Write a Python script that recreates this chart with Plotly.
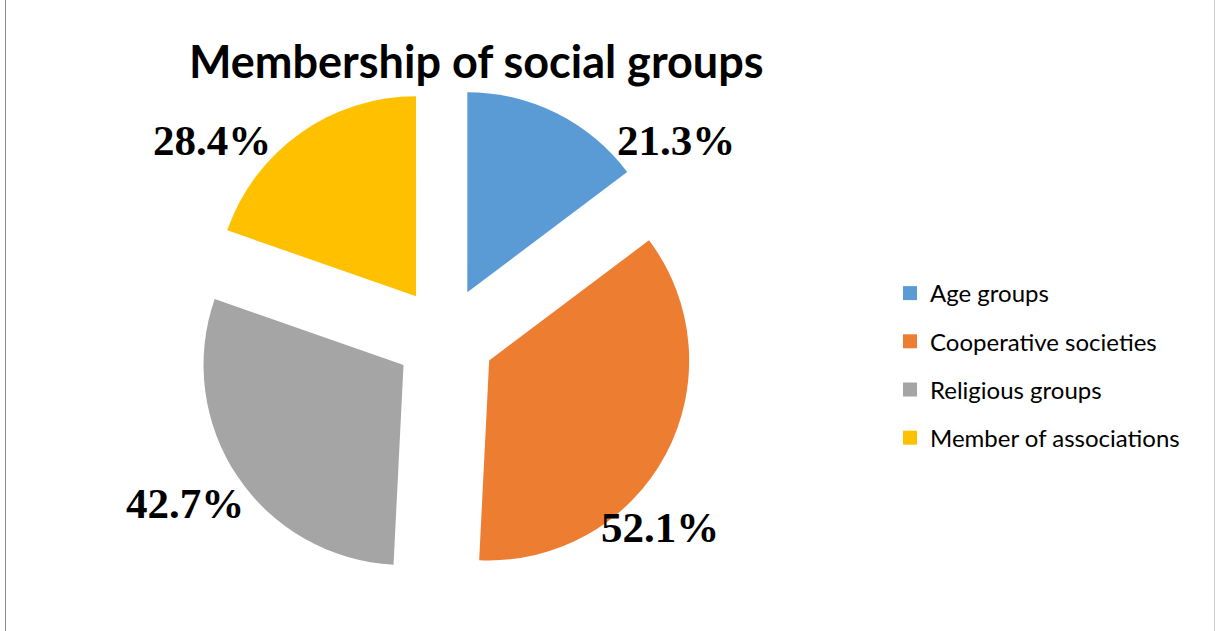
import plotly.graph_objects as go

# Membership of social groups (% of respondents)
groups = ["Age groups", "Cooperative societies", "Religious groups", "Member of associations"]
shares = [21.3, 52.1, 42.7, 28.4]
colors = ["#5B9BD5", "#ED7D31", "#A5A5A5", "#FFC000"]

W, H = 1215, 631

# Where each value label sits (pixel centres, converted to paper fractions below)
label_px = [(676, 141), (660, 527), (185, 504), (212, 140)]

fig = go.Figure()

fig.add_trace(go.Pie(
    labels=groups,
    values=shares,
    sort=False,
    direction="clockwise",
    rotation=0,
    pull=0.25,
    marker=dict(colors=colors, line=dict(width=0)),
    textinfo="none",
    showlegend=False,
    domain=dict(x=[195 / W, 695 / W], y=[1 - 587 / H, 1 - 87 / H]),
))

# Legend entries, one group per category so they can be spaced apart
for i, (name, col) in enumerate(zip(groups, colors)):
    fig.add_trace(go.Scatter(
        x=[None], y=[None], mode="markers", name=name,
        legendgroup=f"g{i}",
        marker=dict(symbol="square", size=14, color=col),
        hoverinfo="skip",
    ))

annotations = [
    dict(text="Membership of social groups", x=476 / W, y=1 - 61 / H,
         xref="paper", yref="paper", xanchor="center", yanchor="middle",
         showarrow=False,
         font=dict(family="Lato", size=45, color="#000000", weight="bold"))
]
for v, (px, py) in zip(shares, label_px):
    annotations.append(dict(
        text=f"{v:.1f}%", x=px / W, y=1 - py / H, xref="paper", yref="paper",
        xanchor="center", yanchor="middle", showarrow=False,
        font=dict(family="Liberation Serif", size=43, color="#000000", weight="bold"),
    ))

fig.update_layout(
    width=W, height=H,
    margin=dict(l=0, r=0, t=0, b=0),
    paper_bgcolor="white", plot_bgcolor="white",
    xaxis=dict(visible=False, range=[0, 1]),
    yaxis=dict(visible=False, range=[0, 1]),
    annotations=annotations,
    legend=dict(
        x=890 / W, y=1 - 271 / H, xanchor="left", yanchor="top",
        font=dict(family="Lato", size=24, color="#000000"),
        tracegroupgap=14, itemclick=False, bgcolor="rgba(0,0,0,0)",
    ),
    shapes=[
        dict(type="line", xref="paper", yref="paper", x0=5.5 / W, x1=5.5 / W, y0=0, y1=1,
             line=dict(color="#8C8C8C", width=1)),
        dict(type="line", xref="paper", yref="paper", x0=1214.5 / W, x1=1214.5 / W, y0=0, y1=1,
             line=dict(color="#D0D0D0", width=1)),
    ],
)

fig.write_html("out.html")
